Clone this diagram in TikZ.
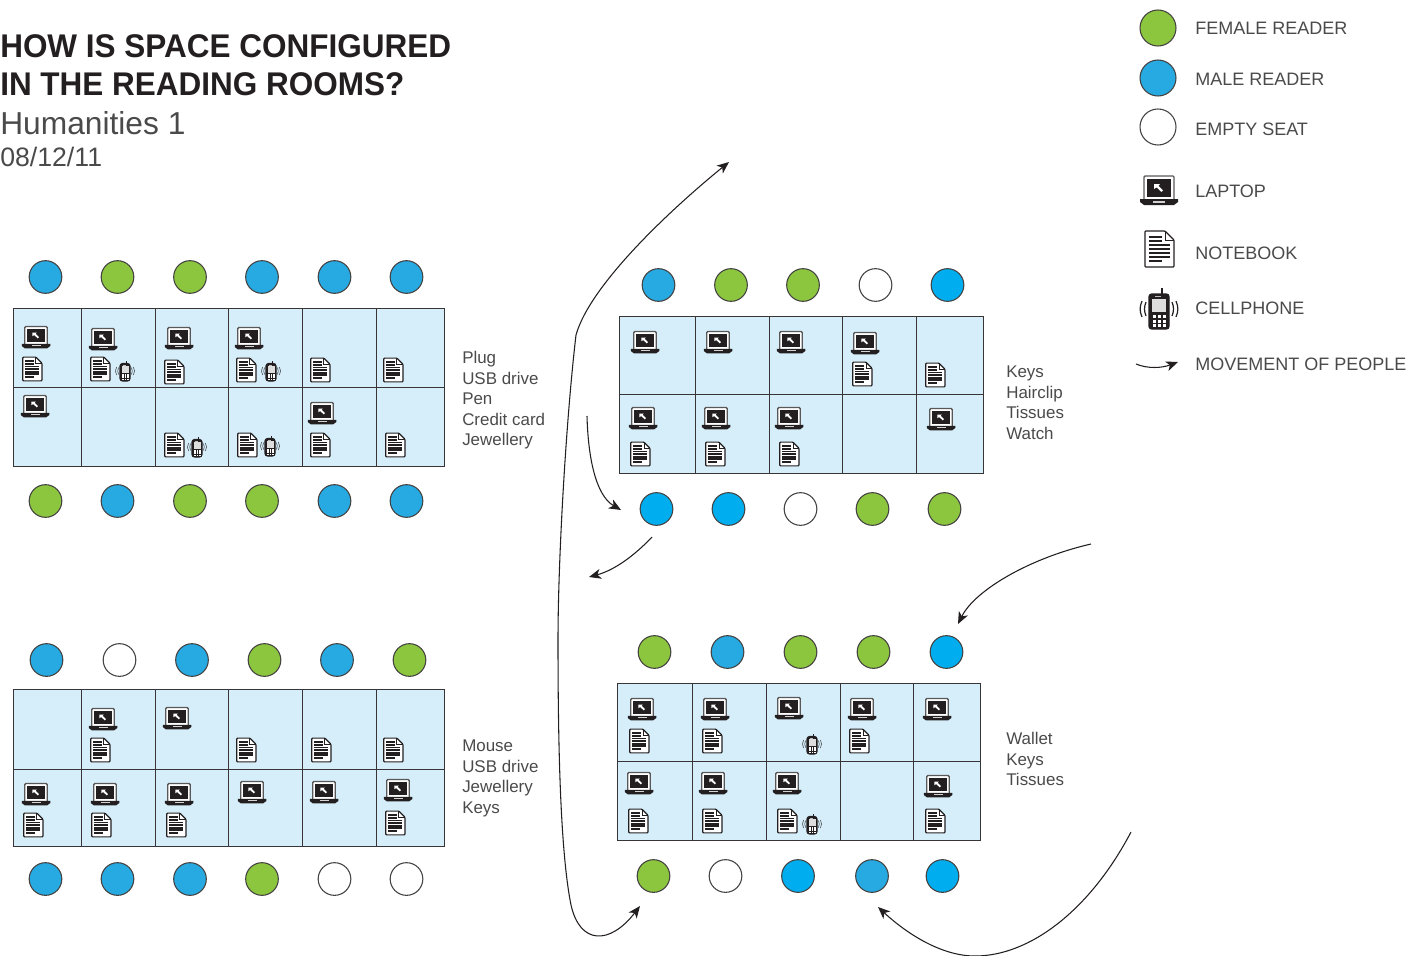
\documentclass[tikz,border=0pt]{standalone}
\usepackage{fontspec}
\setmainfont{Liberation Sans}
\usetikzlibrary{arrows.meta}
\definecolor{femc}{HTML}{8CC63F}
\definecolor{malc}{HTML}{27AAE1}
\definecolor{cyac}{HTML}{00AEEF}
\definecolor{tabc}{HTML}{D5EEFA}
\definecolor{ink}{HTML}{231F20}
\definecolor{txt}{HTML}{4A4A4A}
\tikzset{
 x=0.75pt,y=-0.75pt,
 seat/.style={circle,draw=ink!85,line width=0.8pt,minimum size=24.5pt,inner sep=0pt},
 fem/.style={seat,fill=femc},
 mal/.style={seat,fill=malc},
 cya/.style={seat,fill=cyac},
 emp/.style={seat,fill=white},
 lseat/.style={minimum size=27pt},
 legtxt/.style={anchor=base west,inner sep=0pt,text=txt,font=\fontsize{13.5}{17}\selectfont},
 items/.style={anchor=north west,inner sep=0pt,align=left,text=txt,font=\fontsize{12.7}{15.4}\selectfont},
 cell/.style={draw=ink!90,line width=0.85pt},
 move/.style={draw=ink,line width=0.8pt,-{Stealth[length=9pt,width=7.5pt,inset=2.5pt]}},
 movetwo/.style={draw=ink,line width=0.8pt,{Stealth[length=9pt,width=7.5pt,inset=2.5pt]}-{Stealth[length=9pt,width=7.5pt,inset=2.5pt]}},
 arcline/.style={line width=0.9pt},
 pics/lap/.style={code={
  \draw[draw=ink!75,line width=1pt,fill=white,rounded corners=0.8pt] (-15,11)--(-15,-14)--(15,-14)--(15,11);
  \fill[ink] (-12,-11) rectangle (12,7);
  \fill[ink] (-19,9) -- (19,9) -- (19,12) -- (15,15) -- (-15,15) -- (-19,12) -- cycle;
  \fill[white!80!ink] (-6,10.5) rectangle (6,12.5);
  \fill[white] (-5,-6) -- (1,-6) -- (-0.5,-4.2) -- (4,0.3) -- (2.4,1.9) -- (-2.4,-2.6) -- (-5,-1) -- cycle;
 }},
 pics/note/.style={code={
  \draw[draw=ink,line width=0.9pt,fill=white,line join=round,rounded corners=0.6pt] (-14,-18) -- (6,-18) -- (15,-9) -- (15,18) -- (-14,18) -- cycle;
  \draw[draw=ink,line width=0.7pt] (6,-18) -- (6,-9) -- (15,-9);
  \foreach \yy/\xx in {-12/3,-8/3,-4/11,0/11,4/11,8/11,12/3}{\fill[ink] (-10,\yy-1.3) rectangle (\xx,\yy+1.3);}
 }},
 pics/cell/.style={code={
  \draw[line width=0.9pt,draw=ink,fill=ink,rounded corners=2pt] (-10,-15) rectangle (10,20);
  \fill[ink] (1.5,-21) rectangle (4,-14);
  \fill[white!85!ink] (-7,-10) rectangle (7,3);
  \fill[white!70!ink] (-4,-13) rectangle (2,-12);
  \foreach \cx in {-6,-1,4}{\foreach \cy in {6,10.5,15}{\fill[white] (\cx,\cy) rectangle (\cx+3,\cy+3);}}
  \draw[arcline,ink] (-13,-7) .. controls (-15,-2) and (-15,2) .. (-13,7);
  \draw[arcline,ink] (-17,-8) .. controls (-19.5,-2) and (-19.5,2) .. (-17,8);
  \draw[arcline,ink] (13,-7) .. controls (15,-2) and (15,2) .. (13,7);
  \draw[arcline,ink] (17,-8) .. controls (19.5,-2) and (19.5,2) .. (17,8);
 }},
 laps/.style={scale=0.75},
 nots/.style={scale=0.66},
 cels/.style={scale=0.5,arcline/.style={line width=0.35pt}},
}
\begin{document}
\begin{tikzpicture}
\useasboundingbox (0,0) rectangle (1410,956);
% heading
\node[anchor=north west,inner sep=0pt,align=left,text=ink,font=\fontsize{24.6}{28.6}\selectfont\bfseries\addfontfeatures{FakeStretch=0.96}] (title) at (0,34) {HOW IS SPACE CONFIGURED\\IN THE READING ROOMS?};
\node[anchor=base west,inner sep=0pt,text=txt,font=\fontsize{23.8}{27}\selectfont] (sub) at (0,134) {Humanities 1};
\node[anchor=base west,inner sep=0pt,text=txt,font=\fontsize{20}{22}\selectfont] (date) at (0,166) {08/12/11};
% tables
\begin{scope}[shift={(-0.5,-0.5)}]
\foreach \xa/\xb/\xc/\xd/\xe/\xf/\xg/\ya/\yb/\yc in {14/82/156/229/303/377/445/309/388/467,620/696/770/843/917/984/984/317/395/474,14/82/156/229/303/377/445/690/770/847,618/693/767/841/914/981/981/684/762/841}{
 \fill[tabc] (\xa,\ya) rectangle (\xg,\yc);
 \draw[cell] (\xa,\ya) rectangle (\xg,\yc);
 \draw[cell] (\xa,\yb) -- (\xg,\yb);
 \foreach \v in {\xb,\xc,\xd,\xe,\xf}{\draw[cell] (\v,\ya) -- (\v,\yc);}
}
\end{scope}
% seats
\foreach \n/\xx/\yy/\st in {a1/45.5/277/mal,a2/117.5/277/fem,a3/190/277/fem,a4/262/277/mal,a5/334.5/277/mal,a6/406.5/277/mal,
 b1/45.5/501/fem,b2/117.5/501/mal,b3/190/501/fem,b4/262/501/fem,b5/334.5/501/mal,b6/406.5/501/mal,
 c1/658.5/285/mal,c2/731/285/fem,c3/803/285/fem,c4/875.5/285/emp,c5/947.5/285/cya,
 d1/656.5/509/cya,d2/728.5/509/cya,d3/800.5/509/emp,d4/872.5/509/fem,d5/944.5/509/fem,
 e1/46.5/660/mal,e2/119.5/660/emp,e3/192/660/mal,e4/264.5/660/fem,e5/337/660/mal,e6/409.5/660/fem,
 f1/45.5/879/mal,f2/117.5/879/mal,f3/190/879/mal,f4/262/879/fem,f5/334.5/879/emp,f6/406.5/879/emp,
 g1/654.5/652/fem,g2/727.5/652/mal,g3/800.5/652/fem,g4/873.5/652/fem,g5/946.5/652/cya,
 h1/653.5/876/fem,h2/725.5/876/emp,h3/798/876/cya,h4/872/876/mal,h5/942.5/876/cya}{
 \node[\st] (\n) at (\xx,\yy) {};
}
% laptops
\foreach \xx/\yy in {36/337,103/339,179/338,249/338,35/406,322/413,
 645/342,718/342,791/342,865/343,643/418,716/418,789/418,941/419,
 103/719,177/718,36/794,105/794,179/794,252/792,324/792,398/790,
 642/709,715/709,789/708,862/709,937/709,639/783,713/783,787/783,938/786}{
 \pic[laps] at (\xx,\yy) {lap};
}
% notebooks
\foreach \xx/\yy in {32/369,100/369,174/372,246/370,320/370,393/370,174/445,247/445,320/445,395/445,
 862/374,935/375,640/454,715/454,789/454,
 100/750,246/750,321/750,393/750,33/825,101/825,176/825,395/823,
 639/741,712/741,859/741,638/821,712/821,787/821,935/821}{
 \pic[nots] at (\xx,\yy) {note};
}
% phones
\foreach \xx/\yy in {125/371,271/371,197/447,270/446,812/744,812/824}{
 \pic[cels] at (\xx,\yy) {cell};
}
% item lists
\node[items] (l1) at (462,351) {Plug\\USB drive\\Pen\\Credit card\\Jewellery};
\node[items] (l2) at (1006,366) {Keys\\Hairclip\\Tissues\\Watch};
\node[items] (l3) at (462,740) {Mouse\\USB drive\\Jewellery\\Keys};
\node[items] (l4) at (1006,732) {Wallet\\Keys\\Tissues};
% movement
\coordinate (m1a) at (729,162);
\coordinate (m1b) at (640,906);
\coordinate (m2a) at (587,416);
\coordinate (m2b) at (621,510);
\coordinate (m3a) at (652,537);
\coordinate (m3b) at (589,577);
\coordinate (m4a) at (1091,544);
\coordinate (m4b) at (958,624);
\coordinate (m5a) at (1131,832);
\coordinate (m5b) at (878,907);
\draw[movetwo] (m1a) .. controls (670,210) and (590,285) .. (576,335) .. controls (566,420) and (558,560) .. (558,640) .. controls (558,740) and (560,850) .. (571,905) .. controls (580,945) and (610,945) .. (m1b);
\draw[move] (m2a) .. controls (588,455) and (595,495) .. (m2b);
\draw[move] (m3a) .. controls (635,555) and (615,570) .. (m3b);
\draw[move] (m4a) .. controls (1030,558) and (975,590) .. (m4b);
\draw[move] (m5a) .. controls (1090,910) and (1030,956) .. (975,956) .. controls (940,956) and (905,932) .. (m5b);
% legend
\node[fem,lseat] (k1) at (1158,28) {};
\node[mal,lseat] (k2) at (1158,78) {};
\node[emp,lseat] (k3) at (1158,127) {};
\pic at (1159,190) {lap};
\pic at (1159,249) {note};
\pic at (1159,309) {cell};
\coordinate (k7a) at (1136,364);
\coordinate (k7b) at (1178,362);
\draw[move] (k7a) .. controls (1148,369) and (1162,368) .. (k7b);
\node[legtxt] (t1) at (1195,35) {FEMALE READER};
\node[legtxt] (t2) at (1195,86) {MALE READER};
\node[legtxt] (t3) at (1195,136) {EMPTY SEAT};
\node[legtxt] (t4) at (1195,197) {LAPTOP};
\node[legtxt] (t5) at (1195,259) {NOTEBOOK};
\node[legtxt] (t6) at (1195,314) {CELLPHONE};
\node[legtxt] (t7) at (1195,370) {MOVEMENT OF PEOPLE};
\end{tikzpicture}
\end{document}
